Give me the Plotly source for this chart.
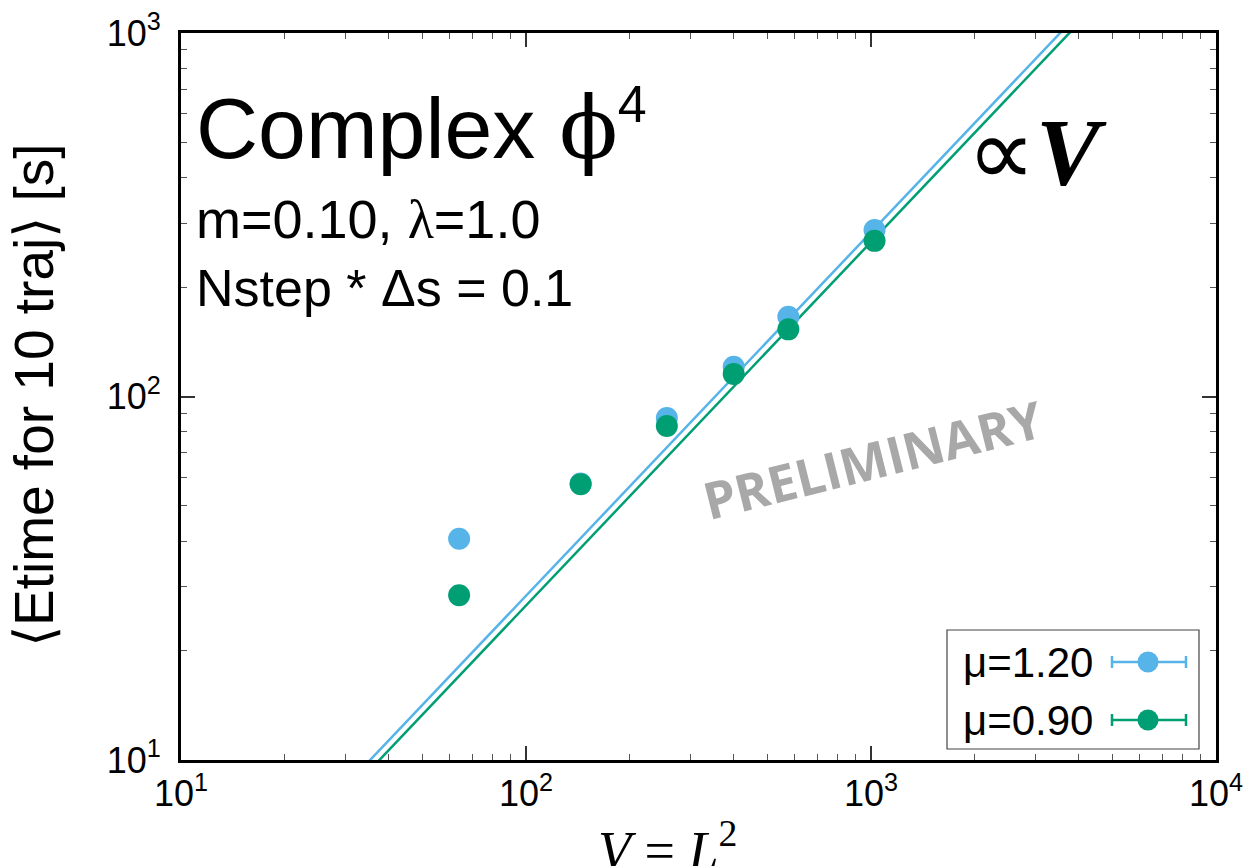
import plotly.graph_objects as go

# ---- data ----
V = [64, 144, 256, 400, 576, 1024]
etime_mu120 = [40.6, 57.6, 87.3, 120.8, 165.8, 287.0]
etime_mu090 = [28.4, 57.4, 83.0, 115.3, 153.0, 268.0]
fit_coef_mu120 = 0.283   # time = c * V
fit_coef_mu090 = 0.266
fit_V = [10, 10000]
labels = ["\u03bc=1.20", "\u03bc=0.90"]
colors = ["#56B4E9", "#009E73"]
x_ticks = [10, 100, 1000, 10000]
x_ticktext = ["10<sup>1</sup>", "10<sup>2</sup>", "10<sup>3</sup>", "10<sup>4</sup>"]
y_ticks = [10, 100, 1000]
y_ticktext = ["10<sup>1</sup>", "10<sup>2</sup>", "10<sup>3</sup>"]

W, H = 1243, 866
L, R, T, B = 181, 1216, 33, 760


def px(x):
    return (x - L) / (R - L)


def py(y):
    return (B - y) / (B - T)


fig = go.Figure()

for c, col in [(fit_coef_mu120, colors[0]), (fit_coef_mu090, colors[1])]:
    fig.add_trace(go.Scatter(x=fit_V, y=[c * v for v in fit_V], mode="lines",
                             line=dict(color=col, width=2.5), showlegend=False,
                             hoverinfo="skip"))

for ys, col, name in [(etime_mu120, colors[0], labels[0]), (etime_mu090, colors[1], labels[1])]:
    fig.add_trace(go.Scatter(x=V, y=ys, mode="markers", name=name,
                             marker=dict(color=col, size=22, line=dict(width=0)),
                             showlegend=False))

minor_vals = [m * 10 ** k for k in range(0, 4) for m in range(2, 10)]

axis_common = dict(
    type="log", showgrid=False, zeroline=False,
    showline=True, linecolor="black", linewidth=3, mirror="allticks",
    ticks="inside", ticklen=14, tickwidth=1.5, tickcolor="#333",
    tickfont=dict(family="Liberation Sans, Arial", size=36, color="black"),
    ticklabeloverflow="allow",
    minor=dict(ticks="inside", ticklen=6, tickwidth=1.2, tickcolor="#555",
               tickvals=minor_vals),
)

fig.update_xaxes(range=[1, 4], tickvals=x_ticks, ticktext=x_ticktext, **axis_common)
fig.update_yaxes(range=[1, 3], tickvals=y_ticks, ticktext=y_ticktext, ticklabelstandoff=10,
                 **axis_common)

SANS = "Liberation Sans, Arial"
SERIF = "Liberation Serif, Times New Roman"

ann = []
ann.append(dict(x=px(194), y=py(126), xref="paper", yref="paper", xanchor="left", yanchor="middle",
                text="Complex <span style='font-family:DejaVu Serif'>\u03d5</span>"
                     "<sup><span style='font-size:52px'>4</span></sup>",
                showarrow=False, font=dict(family=SANS, size=86, color="black")))
ann.append(dict(x=px(194), y=py(219), xref="paper", yref="paper", xanchor="left", yanchor="middle",
                text="m=0.10, <span style='font-family:Liberation Serif'>\u03bb</span>=1.0", showarrow=False,
                font=dict(family=SANS, size=54, color="black")))
ann.append(dict(x=px(194), y=py(288), xref="paper", yref="paper", xanchor="left", yanchor="middle",
                text="Nstep * \u0394s = 0.1", showarrow=False,
                font=dict(family=SANS, size=52, color="black")))
ann.append(dict(x=px(1037), y=py(152), xref="paper", yref="paper", xanchor="center", yanchor="middle",
                text="\u221d<i><b>V</b></i>", showarrow=False,
                font=dict(family=SERIF, size=96, color="black")))
ann.append(dict(x=px(872), y=py(459), xref="paper", yref="paper", xanchor="center", yanchor="middle",
                text="<b>PRELIMINARY</b>", showarrow=False, textangle=-14,
                font=dict(family="Open Sans", size=51, color="#A8A8A8")))
ann.append(dict(x=px(34), y=py(395), xref="paper", yref="paper", xanchor="center", yanchor="middle",
                text="\u27e8Etime for 10 traj\u27e9 [s]", showarrow=False, textangle=-90,
                font=dict(family=SANS, size=55, color="black")))
ann.append(dict(x=px(667), y=py(810), xref="paper", yref="paper", xanchor="center", yanchor="top",
                text="<i>V</i> = <i>L</i><sup>2</sup>", showarrow=False,
                font=dict(family=SERIF, size=54, color="black")))

shapes = [dict(type="rect", xref="paper", yref="paper", x0=px(947), x1=px(1199), y0=py(749), y1=py(630),
               line=dict(color="#444", width=1.2), fillcolor="white")]
leg_rows = [662, 720]
for i, (lab, col) in enumerate(zip(labels, colors)):
    yy = leg_rows[i]
    ann.append(dict(x=px(1095), y=py(yy), xref="paper", yref="paper", xanchor="right", yanchor="middle",
                    text=lab, showarrow=False, font=dict(family=SANS, size=42, color="black")))
    shapes.append(dict(type="line", xref="paper", yref="paper", x0=px(1112), x1=px(1186),
                       y0=py(yy), y1=py(yy), line=dict(color=col, width=2.5)))
    for xe in (1112, 1186):
        shapes.append(dict(type="line", xref="paper", yref="paper", x0=px(xe), x1=px(xe),
                           y0=py(yy - 6), y1=py(yy + 6), line=dict(color=col, width=2.5)))
    shapes.append(dict(type="circle", xref="paper", yref="paper", x0=px(1137.5), x1=px(1158.5),
                       y0=py(yy + 10.5), y1=py(yy - 10.5), line=dict(width=0), fillcolor=col))

fig.update_layout(
    width=W, height=H,
    margin=dict(l=L, r=W - R, t=T, b=H - B, autoexpand=False),
    paper_bgcolor="white", plot_bgcolor="white",
    annotations=ann, shapes=shapes, showlegend=False,
)

fig.write_html("out.html", config={"displayModeBar": False},
               post_script="document.body.style.margin='0';document.body.style.overflow='hidden';")
